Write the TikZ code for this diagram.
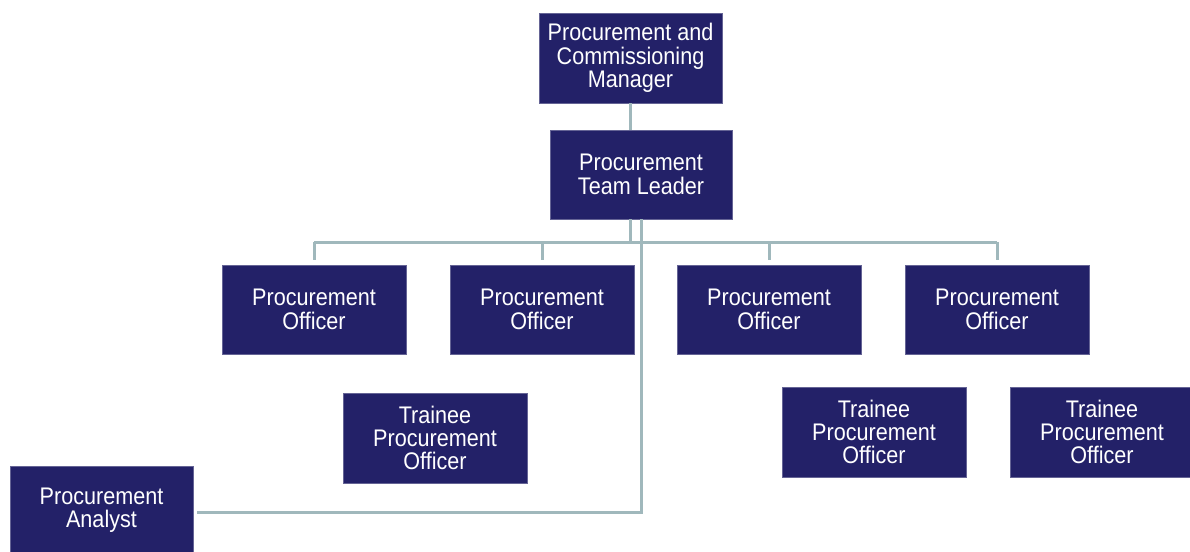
\documentclass[tikz,border=0pt]{standalone}
\usepackage{fontspec}
\setmainfont{Liberation Sans}[FakeStretch=0.9]
\definecolor{boxnavy}{RGB}{35,33,104}
\definecolor{linkgray}{RGB}{160,184,188}
\begin{document}
\begin{tikzpicture}[x=1pt,y=-1pt,
  orgbox/.style={draw=boxnavy!70!white,line width=0.6pt,fill=boxnavy,text=white,align=center,
    minimum width=184pt,minimum height=89pt,inner sep=0pt,
    font=\fontsize{24}{23.3}\selectfont},
  link/.style={draw=linkgray,line width=3pt}]
\useasboundingbox (0,0) rectangle (1190,551);
\node[orgbox,minimum width=183pt,minimum height=90pt] (mgr) at (630.5,58) {Procurement and\\Commissioning\\Manager};
\node[orgbox,minimum width=182pt] (tl) at (641,174.5) {Procurement\\Team Leader};
\node[orgbox] (o1) at (314,309.5) {Procurement\\Officer};
\node[orgbox] (o2) at (542,309.5) {Procurement\\Officer};
\node[orgbox] (o3) at (769,309.5) {Procurement\\Officer};
\node[orgbox] (o4) at (997,309.5) {Procurement\\Officer};
\node[orgbox,minimum height=90pt] (t1) at (435,438) {Trainee\\Procurement\\Officer};
\node[orgbox,minimum height=90pt] (t2) at (874,432) {Trainee\\Procurement\\Officer};
\node[orgbox,minimum height=90pt] (t3) at (1102,432) {Trainee\\Procurement\\Officer};
\node[orgbox,minimum width=183pt] (an) at (101.5,510.5) {Procurement\\Analyst};
\coordinate (bus) at (630,242);
\coordinate (turn) at (641,512);
\draw[link] (mgr.south -| bus) -- (tl.north -| bus);
\draw[link] (tl.south -| bus) -- (bus);
\draw[link] (o1.north |- bus) -- (o4.north |- bus);
\foreach \o in {o1,o2,o3,o4}{
  \draw[link] (\o.north |- bus) -- ([yshift=5pt]\o.north);
}
\draw[link] (tl.south -| turn) -- (turn) -- ([xshift=4pt]an.east |- turn);
\end{tikzpicture}
\end{document}
